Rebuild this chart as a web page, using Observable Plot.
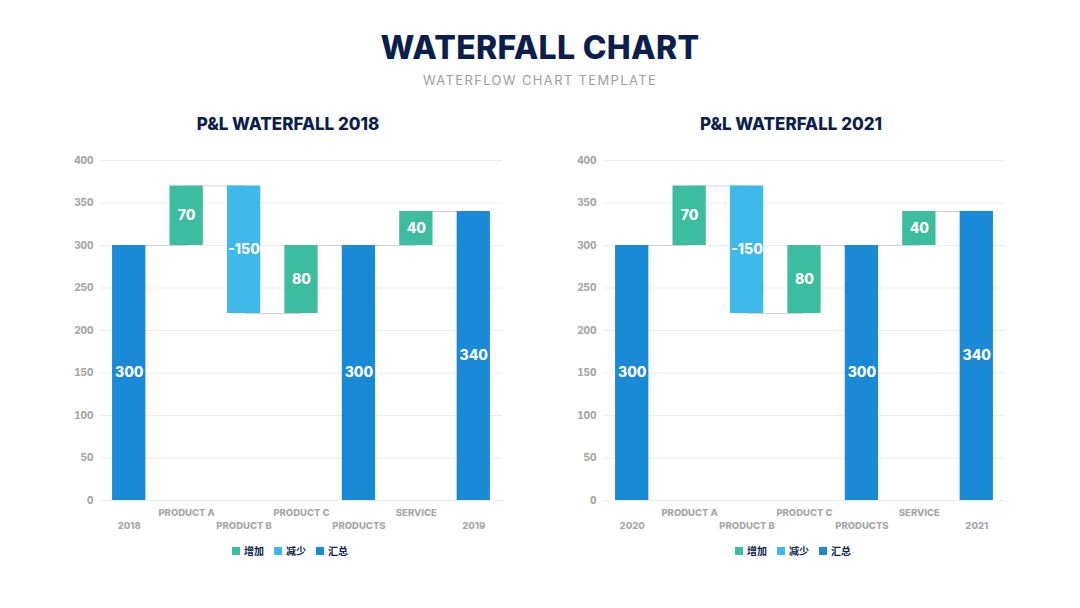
<!DOCTYPE html>
<html>
<head>
<meta charset="utf-8">
<script src="https://cdn.jsdelivr.net/npm/d3@7"></script>
<script src="https://cdn.jsdelivr.net/npm/@observablehq/plot@0.6"></script>
<style>
  html, body { margin: 0; padding: 0; background: #fff; }
  #page { position: relative; width: 1080px; height: 608px; overflow: hidden; font-family: Inter, "Open Sans", sans-serif; }
  .title { position: absolute; left: 0; width: 1080px; top: 28px; text-align: center; font-size: 32px; font-weight: 800; color: #0c1f4c; letter-spacing: 0.3px; }
  .subtitle { position: absolute; left: 0; width: 1080px; top: 72px; text-align: center; font-size: 13px; font-weight: 400; color: #9e9e9e; letter-spacing: 1.35px; }
  .subtitle2 { position: absolute; top: 114px; width: 400px; text-align: center; font-size: 17px; font-weight: 800; color: #0c1f4c; transform: translateX(-50%); }
  .chart { position: absolute; top: 150px; }
  .legend { position: absolute; top: 543px; transform: translateX(-50%); display: flex; gap: 10px; font-family: "Noto Sans CJK SC", sans-serif; font-size: 10px; font-weight: 700; color: #0c1f4c; align-items: center; white-space: nowrap; }
  .legend span.sw { display: inline-block; width: 8px; height: 8px; margin-right: 4px; vertical-align: middle; }
  .legend .item { display: flex; align-items: center; }
</style>
</head>
<body>
<div id="page">
  <div class="title">WATERFALL CHART</div>
  <div class="subtitle">WATERFLOW CHART TEMPLATE</div>
</div>
<script>
const categories1 = ["2018", "PRODUCT A", "PRODUCT B", "PRODUCT C", "PRODUCTS", "SERVICE", "2019"];
const categories2 = ["2020", "PRODUCT A", "PRODUCT B", "PRODUCT C", "PRODUCTS", "SERVICE", "2021"];
const values1 = [300, 70, -150, 80, 300, 40, 340];
const values2 = [300, 70, -150, 80, 300, 40, 340];
const kinds = ["汇总", "增加", "减少", "增加", "汇总", "增加", "汇总"];
const legendNames = ["增加", "减少", "汇总"];
const legendColors = ["#3dbd9f", "#3fb8ea", "#1b8ad6"];
const yTicks = [0, 50, 100, 150, 200, 250, 300, 350, 400];
const titles = ["P&L WATERFALL 2018", "P&L WATERFALL 2021"];

function buildRows(cats, vals) {
  let run = 0;
  return cats.map((c, i) => {
    let start, end;
    if (kinds[i] === "汇总") { start = 0; end = vals[i]; run = vals[i]; }
    else { start = run; end = run + vals[i]; run = end; }
    return {cat: c, value: vals[i], kind: kinds[i], start, end, mid: (start + end) / 2, level: end};
  });
}

function makeChart(cats, vals, left, title) {
  const rows = buildRows(cats, vals);
  const links = rows.slice(0, -1).map((r, i) => ({x1: r.cat, x2: rows[i + 1].cat, y: r.level}));
  const odd = cats.filter((d, i) => i % 2 === 1);
  const even = cats.filter((d, i) => i % 2 === 0);
  const chart = Plot.plot({
    width: 450,
    height: 390,
    marginTop: 10,
    marginBottom: 40,
    marginLeft: 40,
    marginRight: 8,
    style: {fontFamily: "Inter, 'Open Sans', sans-serif", background: "transparent"},
    x: {domain: cats, paddingInner: 0.42, paddingOuter: 0.21, round: false, label: null},
    y: {domain: [0, 400], label: null},
    color: {domain: legendNames, range: legendColors},
    marks: [
      Plot.gridY(yTicks, {stroke: "#ececec", strokeOpacity: 1}),
      Plot.ruleX([0], {frameAnchor: "left", stroke: "#ececec"}),
      Plot.axisY(yTicks, {tickSize: 0, tickPadding: 7, fill: "#a8a8a8", fontSize: 10, fontWeight: 800, label: null}),
      Plot.axisX(odd, {tickSize: 0, tickPadding: 9, fill: "#a8a8a8", fontSize: 9.5, fontWeight: 800, label: null}),
      Plot.axisX(even, {tickSize: 0, tickPadding: 22, fill: "#a8a8a8", fontSize: 9.5, fontWeight: 800, label: null}),
      Plot.link(links, {x1: "x1", x2: "x2", y1: "y", y2: "y", stroke: "#d2d2d2", strokeWidth: 1}),
      Plot.barY(rows, {x: "cat", y1: "start", y2: "end", fill: "kind"}),
      Plot.text(rows, {x: "cat", y: "mid", text: d => String(d.value), fill: "white", fontSize: 14, fontWeight: 800})
    ]
  });
  const div = document.createElement("div");
  div.className = "chart";
  div.style.left = left + "px";
  div.appendChild(chart);
  const page = document.getElementById("page");
  page.appendChild(div);

  const t = document.createElement("div");
  t.className = "subtitle2";
  t.style.left = (left + 228) + "px";
  t.textContent = title;
  page.appendChild(t);

  const lg = document.createElement("div");
  lg.className = "legend";
  lg.style.left = (left + 230) + "px";
  legendNames.forEach((n, i) => {
    const it = document.createElement("div");
    it.className = "item";
    const sw = document.createElement("span");
    sw.className = "sw";
    sw.style.background = legendColors[i];
    it.appendChild(sw);
    it.appendChild(document.createTextNode(n));
    lg.appendChild(it);
  });
  page.appendChild(lg);
}

makeChart(categories1, values1, 60, titles[0]);
makeChart(categories2, values2, 563, titles[1]);
</script>
</body>
</html>
